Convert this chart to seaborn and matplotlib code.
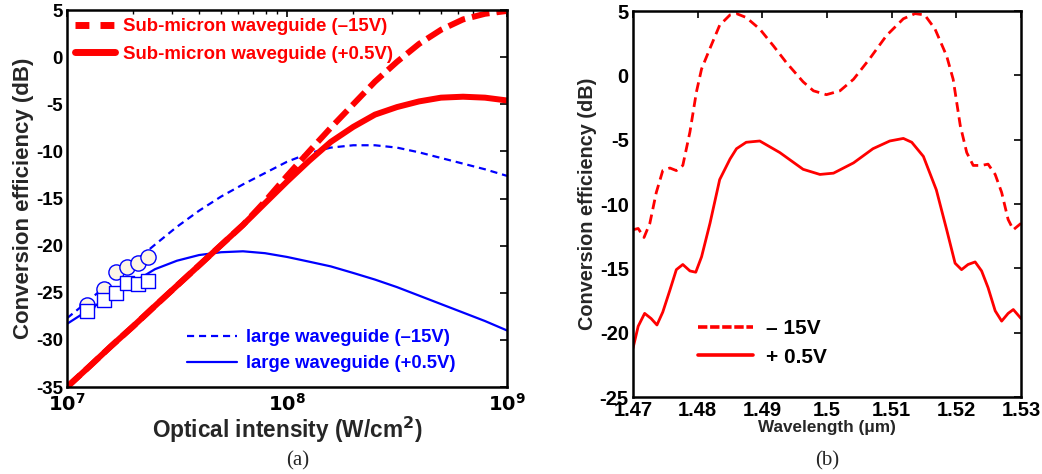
import numpy as np
import pandas as pd
import matplotlib
matplotlib.use("Agg")
import matplotlib.pyplot as plt
import seaborn as sns
from matplotlib.lines import Line2D

# ---------------- data: panel (a) ----------------
intensity = [1.0e7, 1.26e7, 1.58e7, 2.0e7, 2.51e7, 3.16e7, 3.98e7, 5.01e7, 6.31e7, 7.94e7,
             1.0e8, 1.26e8, 1.58e8, 2.0e8, 2.51e8, 3.16e8, 3.98e8, 5.01e8, 6.31e8, 7.94e8, 1.0e9]
sub_m15 = [-35.0, -32.85, -30.7, -28.55, -26.4, -24.25, -22.1, -19.95, -17.8, -15.3,
           -12.6, -10.0, -7.5, -5.0, -2.6, -0.5, 1.4, 2.9, 4.0, 4.6, 4.9]
sub_p05 = [-35.0, -32.85, -30.7, -28.55, -26.4, -24.25, -22.1, -19.95, -17.8, -15.5,
           -13.2, -11.0, -9.0, -7.4, -6.1, -5.3, -4.7, -4.3, -4.2, -4.3, -4.6]
large_m15 = [-27.7, -25.8, -23.8, -21.8, -19.9, -18.0, -16.3, -14.8, -13.5, -12.3,
             -11.1, -10.2, -9.6, -9.35, -9.35, -9.6, -10.1, -10.7, -11.3, -11.9, -12.6]
large_p05 = [-28.3, -26.8, -25.3, -23.9, -22.5, -21.6, -21.0, -20.7, -20.6, -20.8,
             -21.2, -21.7, -22.2, -22.9, -23.6, -24.4, -25.3, -26.2, -27.1, -28.0, -29.0]
meas_intensity = [1.23e7, 1.47e7, 1.67e7, 1.88e7, 2.10e7, 2.34e7]
meas_m15 = [-26.3, -24.6, -22.8, -22.3, -21.8, -21.2]
meas_p05 = [-26.9, -25.8, -25.0, -24.0, -24.1, -23.8]

# ---------------- data: panel (b) ----------------
wl_m15 = [1.4700, 1.4708, 1.4717, 1.4726, 1.4736, 1.4746, 1.4757, 1.4767, 1.4777, 1.4788,
          1.4798, 1.4806, 1.4819, 1.4834, 1.4850, 1.4860, 1.4875, 1.4896, 1.4917, 1.4937,
          1.4963, 1.4979, 1.4999, 1.5020, 1.5041, 1.5066, 1.5092, 1.5118, 1.5136, 1.5151,
          1.5167, 1.5185, 1.5195, 1.5206, 1.5216, 1.5226, 1.5239, 1.5249, 1.5260, 1.5270,
          1.5280, 1.5288, 1.5300]
ce_m15 = [-12.0, -11.9, -12.6, -11.5, -9.1, -7.4, -7.2, -7.4, -7.0, -4.4,
          -1.3, 0.5, 2.1, 3.9, 4.7, 4.8, 4.5, 3.6, 2.3, 1.0,
          -0.5, -1.2, -1.5, -1.2, -0.3, 1.3, 3.1, 4.4, 4.8, 4.7,
          3.6, 1.5, -0.3, -3.9, -6.0, -7.0, -7.0, -6.9, -7.7, -9.1,
          -11.2, -12.0, -11.5]
wl_p05 = [1.4700, 1.4708, 1.4718, 1.4728, 1.4737, 1.4746, 1.4757, 1.4767, 1.4777, 1.4788,
          1.4797, 1.4806, 1.4819, 1.4834, 1.4850, 1.4860, 1.4875, 1.4896, 1.4927, 1.4963,
          1.4989, 1.5010, 1.5041, 1.5071, 1.5097, 1.5118, 1.5131, 1.5149, 1.5169, 1.5185,
          1.5198, 1.5208, 1.5218, 1.5229, 1.5239, 1.5249, 1.5260, 1.5270, 1.5280, 1.5288,
          1.5300]
ce_p05 = [-21.2, -19.5, -18.5, -18.9, -19.4, -18.4, -16.7, -15.1, -14.7, -15.2,
          -15.3, -14.1, -11.5, -8.1, -6.5, -5.7, -5.2, -5.1, -6.0, -7.3,
          -7.7, -7.6, -6.8, -5.7, -5.1, -4.9, -5.2, -6.3, -8.9, -12.0,
          -14.6, -15.1, -14.7, -14.5, -15.2, -16.5, -18.3, -19.1, -18.5, -18.2,
          -18.9]

yticks_a = [-35, -30, -25, -20, -15, -10, -5, 0, 5]
xticks_b = [1.47, 1.48, 1.49, 1.50, 1.51, 1.52, 1.53]
xtick_labels_b = ["1.47", "1.48", "1.49", "1.5", "1.51", "1.52", "1.53"]
yticks_b = [-25, -20, -15, -10, -5, 0, 5]

# ---------------- style ----------------
sns.set_theme(style="white")
plt.rcParams["font.family"] = ["Liberation Sans", "DejaVu Sans"]
plt.rcParams["font.weight"] = "bold"
plt.rcParams["mathtext.default"] = "bf"

RED = "#ff0000"
BLUE = "#0000ff"

fig = plt.figure(figsize=(10.42, 4.74), dpi=100)
fig.patch.set_facecolor("white")

axa = fig.add_axes([0.0643, 0.1835, 0.4223, 0.7954])
axb = fig.add_axes([0.6075, 0.1624, 0.3724, 0.8143])

# ---------------- panel (a) ----------------
sns.lineplot(x=intensity, y=large_m15, ax=axa, color=BLUE, linewidth=1.6,
             linestyle=(0, (3.2, 2.2)), sort=False)
sns.lineplot(x=intensity, y=large_p05, ax=axa, color=BLUE, linewidth=1.6, sort=False)
sns.lineplot(x=intensity, y=sub_m15, ax=axa, color=RED, linewidth=4.3,
             linestyle=(0, (3.0, 1.2)), sort=False)
sns.lineplot(x=intensity, y=sub_p05, ax=axa, color=RED, linewidth=4.3, sort=False)
sns.scatterplot(x=meas_intensity, y=meas_m15, ax=axa, marker="o", s=120,
                facecolor="#fdf5e6", edgecolor=BLUE, linewidth=1.0, zorder=5)
sns.scatterplot(x=meas_intensity, y=meas_p05, ax=axa, marker="s", s=95,
                facecolor="white", edgecolor=BLUE, linewidth=1.0, zorder=5)

axa.set_xscale("log")
axa.set_xlim(1e7, 1e9)
axa.set_ylim(-35, 5)
axa.set_yticks(yticks_a)
axa.set_yticklabels([str(v) for v in yticks_a])
axa.set_xticks([1e7, 1e8, 1e9])
axa.set_xticklabels([r"$\mathbf{10^{7}}$", r"$\mathbf{10^{8}}$", r"$\mathbf{10^{9}}$"])
axa.set_xlabel(r"Optical intensity (W/cm$^{\mathbf{2}}$)", fontsize=16.3, fontweight="bold", labelpad=0)
axa.set_ylabel("Conversion efficiency (dB)", fontsize=16, fontweight="bold", labelpad=1)

leg1 = axa.legend(handles=[
    Line2D([], [], color=RED, lw=5, linestyle=(0, (2.0, 1.6))),
    Line2D([], [], color=RED, lw=5)],
    labels=["Sub-micron waveguide (\u201315V)", "Sub-micron waveguide (+0.5V)"],
    loc="upper left", bbox_to_anchor=(0.0, 1.0), frameon=False, handlelength=2.15,
    handletextpad=0.43, labelspacing=0.55, prop={"size": 13.4, "weight": "bold"},
    labelcolor=RED, borderaxespad=0.25, borderpad=0.2)
axa.add_artist(leg1)
axa.legend(handles=[
    Line2D([], [], color=BLUE, lw=1.6, linestyle=(0, (3.2, 2.2))),
    Line2D([], [], color=BLUE, lw=1.6)],
    labels=["large waveguide (\u201315V)", "large waveguide (+0.5V)"],
    loc="lower left", bbox_to_anchor=(0.235, -0.005), frameon=False, handlelength=2.7,
    handletextpad=0.5, labelspacing=0.5, prop={"size": 13.3, "weight": "bold"},
    labelcolor=BLUE)

# ---------------- panel (b) ----------------
sns.lineplot(x=wl_m15, y=ce_m15, ax=axb, color=RED, linewidth=2.0,
             linestyle=(0, (3.5, 2.0)), sort=False)
sns.lineplot(x=wl_p05, y=ce_p05, ax=axb, color=RED, linewidth=2.0, sort=False)
axb.set_xlim(1.47, 1.53)
axb.set_ylim(-25, 5)
axb.set_xticks(xticks_b)
axb.set_xticklabels(xtick_labels_b)
axb.set_yticks(yticks_b)
axb.set_yticklabels([str(v) for v in yticks_b])
axb.set_xlabel("Wavelength (\u03bcm)", fontsize=12.3, fontweight="bold", labelpad=0)
axb.set_ylabel("Conversion efficiency (dB)", fontsize=14.3, fontweight="bold", labelpad=2)
axb.legend(handles=[
    Line2D([], [], color=RED, lw=2.6, linestyle=(0, (2.6, 0.75))),
    Line2D([], [], color=RED, lw=2.6)],
    labels=["\u2013 15V", "+ 0.5V"],
    loc="lower left", bbox_to_anchor=(0.119, 0.03), frameon=False, handlelength=2.65,
    handletextpad=0.6, labelspacing=0.45, prop={"size": 15, "weight": "bold"},
    labelcolor="black")

for ax in (axa, axb):
    for sp in ax.spines.values():
        sp.set_visible(True)
        sp.set_color("black")
        sp.set_linewidth(1.8)
    ax.tick_params(axis="both", which="both", direction="in", top=True, right=True,
                   colors="black", labelsize=13.5, pad=3)
    ax.tick_params(which="major", length=5, width=1.2)
    ax.tick_params(which="minor", length=3, width=1.0)
    for lbl in ax.get_xticklabels() + ax.get_yticklabels():
        lbl.set_fontweight("bold")
    ax.set_facecolor("white")

axb.minorticks_off()
axb.tick_params(axis="both", labelsize=14.5)
axa.tick_params(axis="x", labelsize=14, pad=4)

fig.text(0.286, 0.028, "(a)", family=["Liberation Serif", "DejaVu Serif"], fontsize=15,
         fontweight="normal", ha="center", va="center")
fig.text(0.794, 0.028, "(b)", family=["Liberation Serif", "DejaVu Serif"], fontsize=15,
         fontweight="normal", ha="center", va="center")

fig.savefig("out.png", dpi=100, facecolor="white")
